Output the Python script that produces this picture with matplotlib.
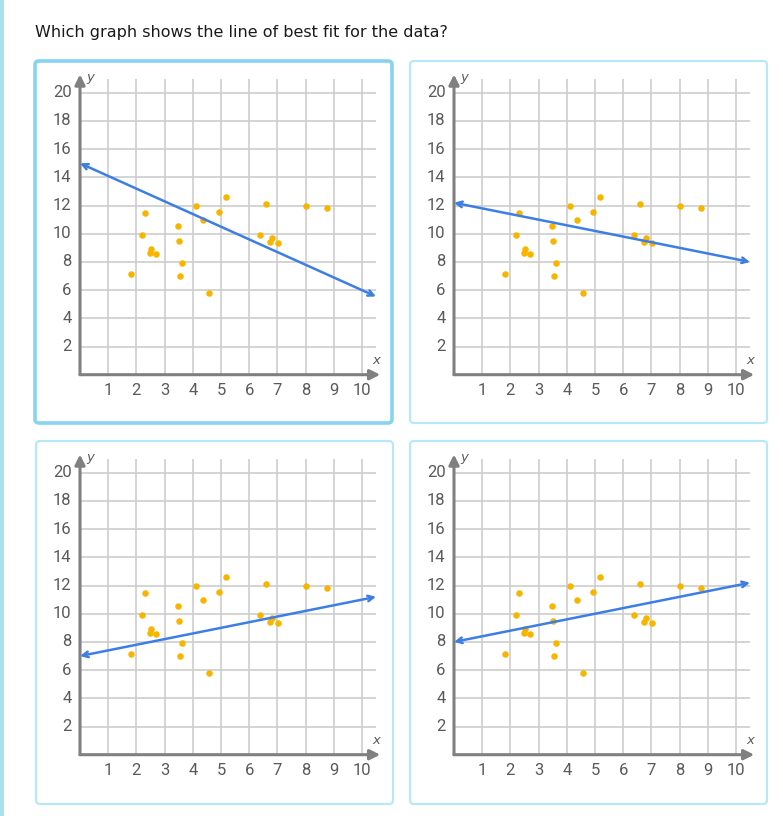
import numpy as np
import matplotlib.pyplot as plt
from matplotlib.patches import FancyBboxPatch, Rectangle

# scatter data (same in every panel)
pts_x = [1.80, 2.20, 2.29, 2.52, 2.49, 2.68, 3.48, 3.51, 3.63, 3.56, 4.10,
         4.36, 4.57, 4.92, 5.19, 6.38, 6.60, 6.80, 6.73, 7.02, 8.03, 8.75]
pts_y = [7.16, 9.93, 11.49, 8.94, 8.63, 8.58, 10.57, 9.48, 7.90, 7.00, 11.96,
         10.95, 5.79, 11.56, 12.62, 9.93, 12.08, 9.69, 9.41, 9.31, 11.99, 11.84]

# candidate lines: (y at x=0, y at x=10.5)
line_starts = [15.0, 12.2, 7.0, 8.0]
line_ends = [5.55, 8.0, 11.2, 12.2]

x_ticks = list(range(1, 11))
y_ticks = list(range(2, 21, 2))

question = "Which graph shows the line of best fit for the data?"

W, H = 783, 816
fig = plt.figure(figsize=(W / 100, H / 100), dpi=100)

# background layer in pixel coordinates
bg = fig.add_axes([0, 0, 1, 1], zorder=0)
bg.set_xlim(0, W)
bg.set_ylim(H, 0)
bg.axis("off")

bg.add_patch(Rectangle((0, 0), 4, H, color="#a8e3ea", lw=0))
bg.text(35, 32, question, fontsize=11.5, color="#1a1a1a", va="center", ha="left",
        family="DejaVu Sans")

# panel boxes: left, top, right, bottom
boxes = [(35, 61, 392, 423), (410, 61, 767, 423), (36, 441, 393, 804), (410, 441, 767, 804)]
for i, (l, t, r, b) in enumerate(boxes):
    if i == 0:
        ec, lw = "#87d3f2", 2.6
    else:
        ec, lw = "#b8e8f8", 1.6
    bg.add_patch(FancyBboxPatch((l, t), r - l, b - t, boxstyle="round,pad=0,rounding_size=4",
                                fc="white", ec=ec, lw=lw))

# axes origins in pixels
origins = [(80, 374.7), (454, 374.7), (80, 754.7), (454, 754.7)]
aw, ah = 296, 296

grid_c = "#cdcdcd"
axis_c = "#808080"
label_c = "#5a5a5a"

for k, (ox, oy) in enumerate(origins):
    ax = fig.add_axes([ox / W, 1 - oy / H, aw / W, ah / H], zorder=1)
    ax.set_xlim(0, 10.5)
    ax.set_ylim(0, 21)
    ax.axis("off")
    ax.patch.set_alpha(0)

    # grid
    for gx in x_ticks:
        ax.plot([gx, gx], [0, 21], color=grid_c, lw=1.2, zorder=1)
    for gy in y_ticks:
        ax.plot([0, 10.5], [gy, gy], color=grid_c, lw=1.2, zorder=1)

    # axes with arrows
    ax.annotate("", xy=(10.65, 0), xytext=(0, 0),
                arrowprops=dict(arrowstyle="-|>", color=axis_c, lw=2.2,
                                mutation_scale=15, shrinkA=0, shrinkB=0),
                annotation_clip=False, zorder=2)
    ax.annotate("", xy=(0, 21.3), xytext=(0, 0),
                arrowprops=dict(arrowstyle="-|>", color=axis_c, lw=2.2,
                                mutation_scale=15, shrinkA=0, shrinkB=0),
                annotation_clip=False, zorder=2)

    # tick labels
    for gx in x_ticks:
        ax.text(gx, -1.1, str(gx), ha="center", va="center", fontsize=12,
                color=label_c, family="Roboto")
    for gy in y_ticks:
        ax.text(-0.3, gy, str(gy), ha="right", va="center", fontsize=12,
                color=label_c, family="Roboto")
    ax.text(0.35, 21.1, "y", ha="center", va="center", fontsize=9.5, style="italic",
            color=label_c, family="DejaVu Sans")
    ax.text(10.5, 1.0, "x", ha="center", va="center", fontsize=9.5, style="italic",
            color=label_c, family="DejaVu Sans")

    # data
    ax.scatter(pts_x, pts_y, s=22, color="#f7b500", lw=0, zorder=3, clip_on=False)

    # line with arrows at both ends
    ax.annotate("", xy=(10.5, line_ends[k]), xytext=(0, line_starts[k]),
                arrowprops=dict(arrowstyle="<->", color="#3d7ee6", lw=1.8,
                                mutation_scale=10, shrinkA=0, shrinkB=0),
                annotation_clip=False, zorder=4)

fig.savefig("out.png", dpi=100)
